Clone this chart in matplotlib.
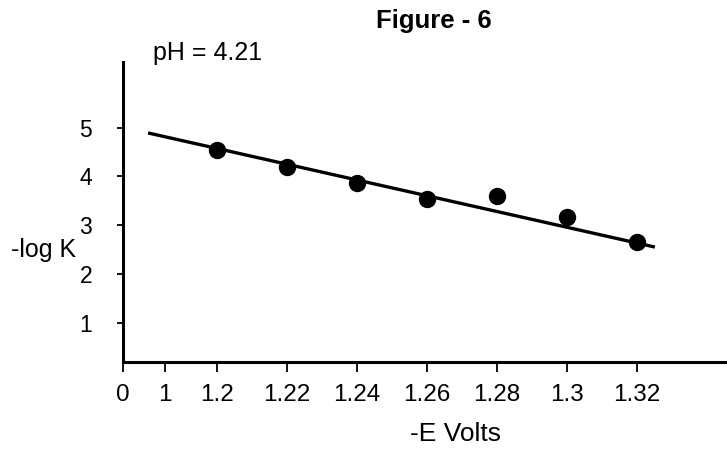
import matplotlib
matplotlib.use('Agg')
import matplotlib.pyplot as plt

# data
volts = [1.20, 1.22, 1.24, 1.26, 1.28, 1.30, 1.32]
log_k = [4.54, 4.19, 3.86, 3.53, 3.59, 3.16, 2.65]

# fitted line end points
fit_x = [1.1803, 1.3251]
fit_y = [4.89, 2.55]

# x axis is broken before 1.2, so "0" and "1" sit at squeezed positions
xtick_pos = [1.1731, 1.1851, 1.20, 1.22, 1.24, 1.26, 1.28, 1.30, 1.32]
xtick_labels = ['0', '1', '1.2', '1.22', '1.24', '1.26', '1.28', '1.3', '1.32']
yticks = [1, 2, 3, 4, 5]

plt.rcParams['font.family'] = ['Liberation Sans', 'DejaVu Sans']

fig = plt.figure(figsize=(7.27, 4.51), dpi=100)
ax = fig.add_axes([0.169, 0.197, 0.831, 0.665])

ax.plot(fit_x, fit_y, color='black', lw=2.4, solid_capstyle='butt')
ax.plot(volts, log_k, 'o', color='black', ms=11.5)

ax.set_xlim(1.1731, 1.3457)
ax.set_ylim(0.19, 6.34)

ax.set_xticks(xtick_pos)
ax.set_xticklabels(xtick_labels)
ax.set_yticks(yticks)

for side in ['top', 'right']:
    ax.spines[side].set_visible(False)
for side in ['left', 'bottom']:
    ax.spines[side].set_linewidth(2.2)

ax.tick_params(axis='x', direction='out', length=7, width=1.3, pad=9, labelsize=17.5)
ax.tick_params(axis='y', direction='out', length=4, width=1.3, pad=18, labelsize=16.5)

fig.text(0.597, 0.953, 'Figure - 6', ha='center', va='center',
         fontsize=18.5, fontweight='bold')
fig.text(0.285, 0.882, 'pH = 4.21', ha='center', va='center', fontsize=18)
fig.text(0.015, 0.445, '-log K', ha='left', va='center', fontsize=18)
fig.text(0.626, 0.038, '-E Volts', ha='center', va='center', fontsize=19)

fig.savefig('out.png', dpi=100)
